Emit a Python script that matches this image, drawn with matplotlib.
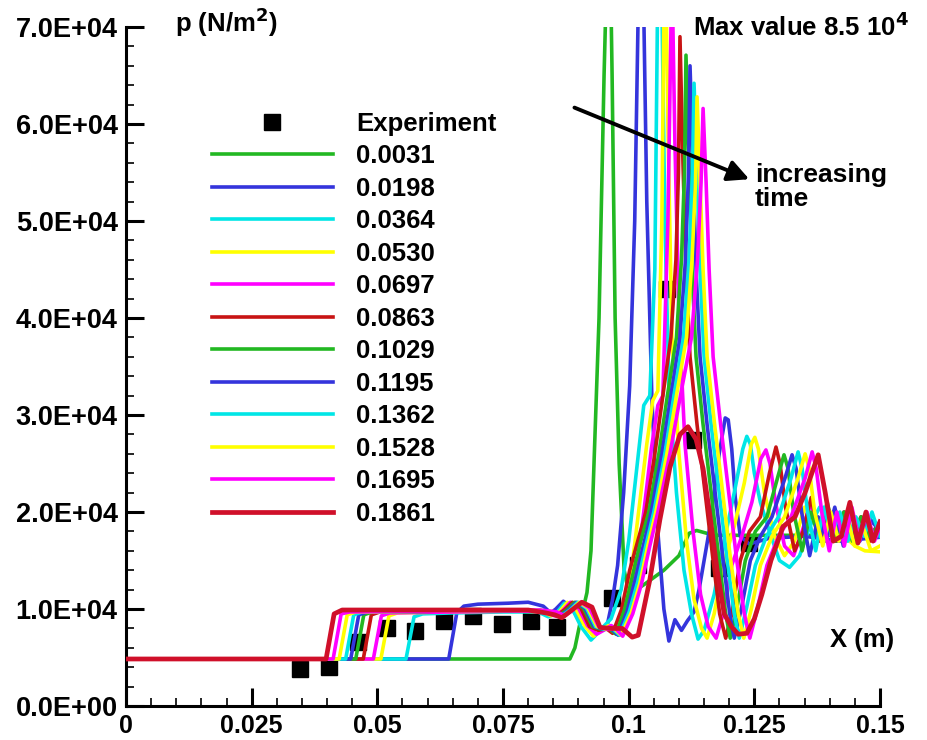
import matplotlib
matplotlib.use("Agg")
import matplotlib.pyplot as plt
from matplotlib.lines import Line2D
from matplotlib.ticker import MultipleLocator, FuncFormatter

plt.rcParams['font.family'] = ['Liberation Sans', 'DejaVu Sans']
plt.rcParams['font.weight'] = 'bold'

# experiment (x in m, p in N/m2)
exp_x = [0.0346, 0.0404, 0.0461, 0.0519, 0.0575, 0.0632, 0.0690, 0.0748, 0.0805, 0.0857,
         0.0967, 0.1018, 0.1076, 0.1128, 0.1180, 0.1240]
exp_p = [3800, 4000, 6600, 8000, 7700, 8800, 9300, 8500, 8800, 8100,
         11100, 14500, 43000, 27400, 14200, 16800]

times = ['0.0031', '0.0198', '0.0364', '0.0530', '0.0697', '0.0863',
         '0.1029', '0.1195', '0.1362', '0.1528', '0.1695', '0.1861']
colors = ['#22b822', '#3434dc', '#00e6e6', '#ffff00', '#ff00ff', '#c81414',
          '#22b822', '#3434dc', '#00e6e6', '#ffff00', '#ff00ff', '#d0102a']

# computed pressure profiles, one pair of lists per time
x_0031 = [0, 0.0883, 0.0893, 0.0905, 0.0917, 0.0925, 0.0931, 0.0941, 0.0951, 0.0961, 0.0967,
          0.0973, 0.0981, 0.0991, 0.1001, 0.1030, 0.1070, 0.1100, 0.1120, 0.1135, 0.1170,
          0.1250, 0.1350, 0.1500]
p_0031 = [4850, 4850, 6000, 9000, 11700, 16000, 25000, 40000, 65000, 85000, 65000,
          40000, 25000, 14000, 11500, 12500, 14000, 15500, 17800, 18100, 17600,
          17600, 17600, 17600]

x_0198 = [0, 0.0642, 0.0658, 0.0672, 0.0700, 0.0760, 0.0800, 0.0830, 0.0845, 0.0855, 0.0870,
          0.0885, 0.0900, 0.0915, 0.0930, 0.0945, 0.0958, 0.0968, 0.0978, 0.0990, 0.1002,
          0.1012, 0.1020, 0.1028, 0.1036, 0.1046, 0.1058, 0.1070, 0.1080, 0.1092, 0.1105,
          0.1117, 0.1130, 0.1140, 0.1160, 0.1180, 0.1192, 0.1198, 0.1205, 0.1212, 0.1222,
          0.1240, 0.1280, 0.1350, 0.1420, 0.1500]
p_0198 = [4850, 4850, 9600, 10300, 10500, 10600, 10700, 10300, 9600, 10000, 10800,
          10200, 9000, 9500, 8700, 7800, 8500, 11000, 14500, 22000, 33000,
          50000, 75000, 78000, 52000, 32000, 18000, 10000, 6700, 8900, 7800,
          8800, 9700, 12000, 18000, 26000, 29700, 29500, 26500, 21500, 17500,
          16700, 17300, 17500, 17000, 17400]

x_0364 = [0, 0.0557, 0.0573, 0.0590, 0.0650, 0.0750, 0.0820, 0.0840, 0.0855, 0.0872, 0.0888,
          0.0905, 0.0925, 0.0938, 0.0950, 0.0965, 0.0985, 0.1000, 0.1015, 0.1030, 0.1042,
          0.1052, 0.1058, 0.1064, 0.1072, 0.1080, 0.1095, 0.1110, 0.1125, 0.1138, 0.1150,
          0.1170, 0.1190, 0.1210, 0.1227, 0.1235, 0.1242, 0.1250, 0.1262, 0.1280, 0.1300,
          0.1320, 0.1340, 0.1360, 0.1380, 0.1400, 0.1420, 0.1440, 0.1460, 0.1480, 0.1500]
p_0364 = [4850, 4850, 9200, 9500, 9600, 9700, 9700, 9200, 9500, 10600, 10000,
          8200, 6800, 7500, 8200, 9000, 12000, 17000, 24000, 31000, 32000,
          45000, 75000, 80000, 50000, 33000, 22000, 14000, 9500, 6900, 7800,
          11500, 17000, 22000, 26500, 27800, 27000, 24000, 21000, 18000, 15000,
          14300, 15500, 18500, 20500, 19500, 19000, 19500, 18500, 19000, 18500]

x_0530 = [0, 0.0507, 0.0523, 0.0540, 0.0650, 0.0780, 0.0830, 0.0846, 0.0862, 0.0878, 0.0894,
          0.0912, 0.0930, 0.0945, 0.0960, 0.0975, 0.0992, 0.1008, 0.1022, 0.1036, 0.1048,
          0.1058, 0.1066, 0.1072, 0.1078, 0.1086, 0.1100, 0.1115, 0.1130, 0.1145, 0.1156,
          0.1170, 0.1190, 0.1210, 0.1230, 0.1244, 0.1251, 0.1258, 0.1270, 0.1290, 0.1310,
          0.1330, 0.1350, 0.1370, 0.1390, 0.1410, 0.1430, 0.1450, 0.1470, 0.1500]
p_0530 = [4850, 4850, 9300, 9600, 9700, 9800, 9700, 9300, 9700, 10700, 10100,
          8300, 7200, 7800, 8300, 8000, 10500, 15000, 21000, 27000, 31500,
          32500, 50000, 82000, 60000, 38000, 26000, 17000, 11000, 8000, 7000,
          9500, 15000, 18500, 23000, 27000, 27700, 26500, 22000, 17500, 15500,
          17000, 20500, 19000, 17000, 19000, 17500, 16500, 16000, 15900]

x_0697 = [0, 0.0492, 0.0508, 0.0525, 0.0650, 0.0790, 0.0836, 0.0852, 0.0868, 0.0884, 0.0900,
          0.0918, 0.0936, 0.0950, 0.0965, 0.0980, 0.0998, 0.1015, 0.1030, 0.1045, 0.1058,
          0.1068, 0.1078, 0.1086, 0.1092, 0.1100, 0.1112, 0.1128, 0.1143, 0.1158, 0.1174,
          0.1188, 0.1205, 0.1225, 0.1245, 0.1263, 0.1273, 0.1281, 0.1292, 0.1310, 0.1328,
          0.1345, 0.1362, 0.1378, 0.1395, 0.1412, 0.1428, 0.1445, 0.1462, 0.1480, 0.1500]
p_0697 = [4850, 4850, 9300, 9600, 9700, 9800, 9700, 9300, 9800, 10700, 10100,
          8300, 7400, 7800, 8300, 7800, 9800, 14000, 20000, 26500, 31000,
          32000, 50000, 76000, 58000, 40000, 27000, 18000, 11500, 8200, 7000,
          9500, 14500, 17500, 21000, 25500, 26400, 25000, 21000, 16500, 15500,
          18000, 21000, 17500, 20500, 17000, 20000, 17500, 19500, 17500, 19000]

x_0863 = [0, 0.0472, 0.0488, 0.0505, 0.0650, 0.0800, 0.0840, 0.0856, 0.0872, 0.0888, 0.0905,
          0.0922, 0.0940, 0.0955, 0.0968, 0.0986, 0.1002, 0.1018, 0.1034, 0.1052, 0.1068,
          0.1084, 0.1094, 0.1099, 0.1102, 0.1108, 0.1114, 0.1122, 0.1136, 0.1152, 0.1168,
          0.1181, 0.1193, 0.1205, 0.1222, 0.1240, 0.1262, 0.1280, 0.1293, 0.1301, 0.1312,
          0.1330, 0.1347, 0.1363, 0.1380, 0.1396, 0.1413, 0.1430, 0.1447, 0.1463, 0.1480,
          0.1500]
p_0863 = [4850, 4850, 9400, 9700, 9800, 9900, 9700, 9300, 9900, 10700, 10100,
          8200, 7800, 8000, 7500, 10000, 14000, 17000, 20000, 26000, 32000,
          38000, 46000, 55000, 69000, 56000, 45000, 36000, 29000, 22000, 15000,
          9500, 7000, 9500, 15000, 18000, 19500, 24000, 26700, 25000, 20500,
          16000, 18000, 21500, 17000, 20500, 17000, 20000, 17500, 19500, 17000,
          18500]

x_1029 = [0, 0.0457, 0.0473, 0.0490, 0.0650, 0.0810, 0.0845, 0.0861, 0.0877, 0.0893, 0.0910,
          0.0928, 0.0946, 0.0961, 0.0975, 0.0992, 0.1008, 0.1024, 0.1040, 0.1060, 0.1077,
          0.1095, 0.1105, 0.1111, 0.1114, 0.1120, 0.1126, 0.1134, 0.1148, 0.1164, 0.1180,
          0.1193, 0.1202, 0.1215, 0.1232, 0.1252, 0.1275, 0.1296, 0.1309, 0.1317, 0.1328,
          0.1345, 0.1362, 0.1378, 0.1395, 0.1412, 0.1428, 0.1445, 0.1462, 0.1480, 0.1500]
p_1029 = [4850, 4850, 9400, 9700, 9800, 9900, 9700, 9300, 9900, 10700, 10100,
          8200, 7900, 8000, 7400, 10000, 13500, 17000, 20000, 26000, 32000,
          38000, 46000, 55000, 67100, 56000, 45000, 36000, 29000, 22000, 15000,
          9500, 7000, 10000, 15000, 18000, 19500, 23500, 25900, 24500, 20000,
          16000, 20000, 17500, 21000, 17000, 20000, 17000, 19500, 17500, 19000]

x_1195 = [0, 0.0447, 0.0463, 0.0480, 0.0650, 0.0815, 0.0848, 0.0864, 0.0880, 0.0896, 0.0913,
          0.0931, 0.0950, 0.0965, 0.0979, 0.0997, 0.1013, 0.1029, 0.1045, 0.1066, 0.1084,
          0.1102, 0.1113, 0.1119, 0.1122, 0.1128, 0.1134, 0.1142, 0.1156, 0.1172, 0.1188,
          0.1201, 0.1210, 0.1224, 0.1242, 0.1262, 0.1285, 0.1311, 0.1325, 0.1333, 0.1344,
          0.1360, 0.1377, 0.1393, 0.1410, 0.1427, 0.1443, 0.1460, 0.1477, 0.1500]
p_1195 = [4850, 4850, 9400, 9700, 9800, 9900, 9700, 9300, 9900, 10700, 10100,
          8200, 7900, 8000, 7300, 9800, 13000, 16500, 20000, 26000, 32000,
          38000, 46000, 55000, 66000, 56000, 45000, 36000, 29000, 22000, 15000,
          9500, 7000, 10000, 15000, 17500, 19500, 23500, 25900, 24500, 20000,
          15500, 19500, 17000, 20500, 16500, 20000, 17000, 19500, 18000]

x_1362 = [0, 0.0437, 0.0453, 0.0470, 0.0650, 0.0818, 0.0851, 0.0867, 0.0883, 0.0899, 0.0916,
          0.0934, 0.0953, 0.0968, 0.0982, 0.1001, 0.1018, 0.1034, 0.1050, 0.1072, 0.1090,
          0.1109, 0.1120, 0.1127, 0.1130, 0.1136, 0.1142, 0.1150, 0.1164, 0.1180, 0.1196,
          0.1210, 0.1220, 0.1234, 0.1252, 0.1274, 0.1298, 0.1323, 0.1337, 0.1345, 0.1356,
          0.1372, 0.1388, 0.1404, 0.1420, 0.1436, 0.1452, 0.1468, 0.1484, 0.1500]
p_1362 = [4850, 4850, 9400, 9700, 9800, 9900, 9700, 9300, 9900, 10700, 10100,
          8200, 7900, 8000, 7300, 9700, 12800, 16500, 20000, 26000, 32000,
          38000, 46000, 55000, 64200, 55000, 45000, 36000, 29000, 22000, 15000,
          9500, 7000, 10000, 14500, 17500, 19500, 23500, 26200, 24500, 20000,
          16000, 20500, 17500, 20000, 17000, 19500, 17500, 20000, 17500]

x_1528 = [0, 0.0424, 0.0440, 0.0457, 0.0650, 0.0821, 0.0854, 0.0870, 0.0886, 0.0902, 0.0919,
          0.0937, 0.0956, 0.0971, 0.0985, 0.1005, 0.1022, 0.1038, 0.1054, 0.1076, 0.1095,
          0.1115, 0.1126, 0.1133, 0.1136, 0.1142, 0.1148, 0.1156, 0.1171, 0.1187, 0.1203,
          0.1218, 0.1229, 0.1244, 0.1262, 0.1285, 0.1310, 0.1337, 0.1351, 0.1359, 0.1370,
          0.1386, 0.1402, 0.1418, 0.1434, 0.1450, 0.1466, 0.1482, 0.1500]
p_1528 = [4850, 4850, 9400, 9700, 9800, 9900, 9700, 9300, 9900, 10700, 10100,
          8200, 7900, 8000, 7300, 9600, 12600, 16500, 20000, 26000, 32000,
          38000, 46000, 54000, 62800, 54000, 45000, 36000, 29000, 22000, 15000,
          9500, 7000, 10000, 14500, 17500, 19500, 23500, 26000, 24500, 20000,
          16500, 20000, 17000, 19500, 16500, 18500, 16000, 16500]

x_1695 = [0, 0.0412, 0.0428, 0.0445, 0.0650, 0.0824, 0.0857, 0.0873, 0.0889, 0.0905, 0.0922,
          0.0940, 0.0959, 0.0974, 0.0988, 0.1008, 0.1025, 0.1042, 0.1058, 0.1082, 0.1103,
          0.1125, 0.1137, 0.1144, 0.1148, 0.1154, 0.1160, 0.1168, 0.1183, 0.1199, 0.1215,
          0.1230, 0.1241, 0.1256, 0.1275, 0.1298, 0.1323, 0.1351, 0.1365, 0.1373, 0.1384,
          0.1399, 0.1414, 0.1429, 0.1444, 0.1459, 0.1474, 0.1489, 0.1500]
p_1695 = [4850, 4850, 9500, 9700, 9800, 9900, 9700, 9300, 9900, 10700, 10100,
          8200, 7900, 8000, 7200, 9500, 12500, 16500, 20000, 26000, 32000,
          38000, 46000, 54000, 61600, 54000, 45000, 36000, 29000, 22000, 15000,
          9500, 7000, 10000, 14500, 17500, 19500, 23500, 26200, 24500, 20000,
          16000, 20000, 16500, 20500, 17000, 20000, 17000, 18500]

x_1861 = [0, 0.0398, 0.0414, 0.0430, 0.0650, 0.0800, 0.0835, 0.0853, 0.0867, 0.0887, 0.0907,
          0.0927, 0.0943, 0.0967, 0.0987, 0.1007, 0.1019, 0.1042, 0.1062, 0.1082, 0.1102,
          0.1118, 0.1134, 0.1148, 0.1162, 0.1176, 0.1190, 0.1204, 0.1218, 0.1235, 0.1250,
          0.1265, 0.1283, 0.1307, 0.1331, 0.1351, 0.1377, 0.1391, 0.1407, 0.1423, 0.1440,
          0.1456, 0.1472, 0.1486, 0.1500]
p_1861 = [4850, 4850, 9500, 9900, 9900, 9900, 9600, 9400, 9100, 9900, 10700,
          10200, 8100, 8000, 8000, 7100, 7300, 13000, 19200, 24600, 28000,
          28800, 27500, 24500, 19500, 14000, 9500, 8200, 7400, 7500, 9000,
          11500, 15000, 18500, 19500, 22000, 25900, 22000, 17000, 17500, 21000,
          16800, 20000, 17000, 19000]

curves_x = [x_0031, x_0198, x_0364, x_0530, x_0697, x_0863,
            x_1029, x_1195, x_1362, x_1528, x_1695, x_1861]
curves_p = [p_0031, p_0198, p_0364, p_0530, p_0697, p_0863,
            p_1029, p_1195, p_1362, p_1528, p_1695, p_1861]

fig = plt.figure(figsize=(9.28, 7.4), dpi=100)
ax = fig.add_axes([0.1358, 0.0459, 0.8125, 0.9176])

# experiment squares under the curves
ax.plot(exp_x, exp_p, 's', color='black', markersize=12, zorder=1)

handles = [Line2D([], [], marker='s', color='black', linestyle='none', markersize=12)]
for i in range(len(times)):
    lw = 3.4 if i == len(times) - 1 else 2.6
    ax.plot(curves_x[i], curves_p[i], color=colors[i], linewidth=lw, zorder=2 + i,
            solid_joinstyle='round')
    handles.append(Line2D([], [], color=colors[i], linewidth=lw))

ax.set_xlim(0, 0.15)
ax.set_ylim(0, 70000)

for s in ['top', 'right']:
    ax.spines[s].set_visible(False)
for s in ['left', 'bottom']:
    ax.spines[s].set_linewidth(2.2)

ax.xaxis.set_major_locator(MultipleLocator(0.025))
ax.xaxis.set_minor_locator(MultipleLocator(0.005))
ax.yaxis.set_major_locator(MultipleLocator(10000))
ax.yaxis.set_minor_locator(MultipleLocator(2000))
ax.xaxis.set_major_formatter(FuncFormatter(lambda v, pos: '%g' % round(v, 4)))
ax.yaxis.set_major_formatter(FuncFormatter(lambda v, pos: '%.1E' % v))
ax.tick_params(which='major', direction='in', length=13, width=2.2, pad=6)
ax.tick_params(axis='x', which='major', labelsize=18)
ax.tick_params(axis='y', which='major', labelsize=19.5)
ax.tick_params(which='minor', direction='in', length=6, width=1.2)

ax.text(0.065, 1.007, 'p (N/m$^\\mathbf{2}$)', transform=ax.transAxes, fontsize=18.5,
        fontweight='bold', va='center', ha='left')
ax.text(0.752, 1.0, 'Max value 8.5 10$^\\mathbf{4}$', transform=ax.transAxes, fontsize=18.5,
        fontweight='bold', va='center', ha='left')
ax.text(0.834, 0.80, 'increasing\ntime', transform=ax.transAxes, fontsize=19,
        fontweight='bold', va='top', ha='left', linespacing=1.0)
ax.text(0.934, 0.097, 'X (m)', transform=ax.transAxes, fontsize=18.5,
        fontweight='bold', va='center', ha='left')

ax.annotate('', xy=(0.1245, 54200), xytext=(0.0887, 61800), zorder=30,
            arrowprops=dict(arrowstyle='-|>', color='black', lw=2.8, mutation_scale=32))

fig.legend(handles, ['Experiment'] + times, loc='upper left',
           bbox_to_anchor=(212 / 928, 1 - 112 / 740), frameon=False, fontsize=18.5,
           handlelength=4.7, handletextpad=0.9, labelspacing=0.33, borderpad=0,
           borderaxespad=0, numpoints=1)

fig.savefig('out.png', dpi=100)
